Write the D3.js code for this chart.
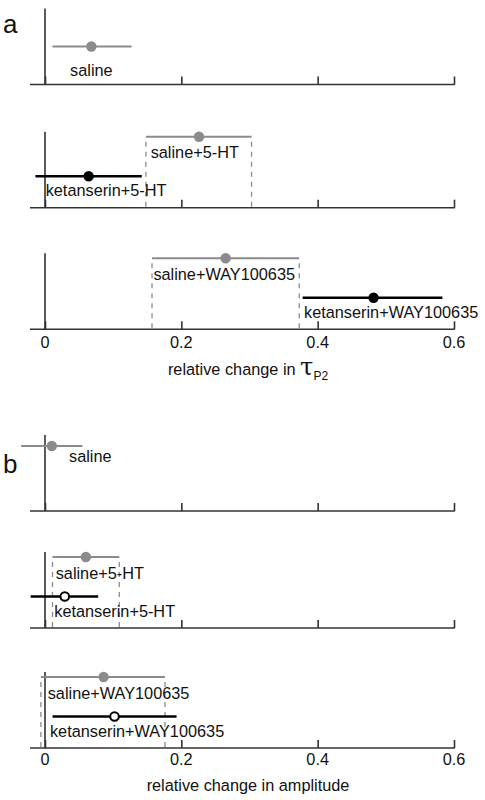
<!DOCTYPE html>
<html>
<head>
<meta charset="utf-8">
<script src="https://cdn.jsdelivr.net/npm/d3@7"></script>
<style>
  html, body { margin: 0; padding: 0; background: #fff; }
  svg { display: block; font-family: "Liberation Sans", Arial, Helvetica, sans-serif; }
</style>
</head>
<body>
<svg id="chart" width="485" height="800"></svg>
<script>
// ---------- data ----------
const conditions = ["saline", "saline+5-HT", "ketanserin+5-HT", "saline+WAY100635", "ketanserin+WAY100635"];
const pretreatment = ["saline", "saline", "ketanserin", "saline", "ketanserin"];
const rowIndex = [0, 1, 1, 2, 2];

// panel a: relative change in tau_P2
const tauMean = [0.068, 0.226, 0.064, 0.265, 0.482];
const tauLow  = [0.011, 0.148, -0.014, 0.157, 0.378];
const tauHigh = [0.127, 0.303, 0.142, 0.373, 0.583];
const tauSignificant = [true, true, true, true, true];

// panel b: relative change in amplitude
const ampMean = [0.010, 0.060, 0.029, 0.086, 0.102];
const ampLow  = [-0.035, 0.011, -0.021, -0.006, 0.011];
const ampHigh = [0.055, 0.109, 0.078, 0.176, 0.193];
const ampSignificant = [true, true, false, true, false];

const xTicks = [0, 0.2, 0.4, 0.6];
const xTickLabels = ["0", "0.2", "0.4", "0.6"];

// ---------- layout ----------
const svg = d3.select("#chart");
const x = d3.scaleLinear().domain([0, 0.6]).range([45, 454]);
const axisLeftEnd = -0.022;
const grayC = "#8b8b8b", axisC = "#333";
const fs = 16.3;

// label starts (data units) for readable placement
const labelStartA = [null, 0.155, 0.001, 0.159, 0.380];
const labelStartB = [null, 0.0157, 0.0136, 0.004, 0.0073];

const panels = [
  { letter: "a", letterY: 33.3, rowsAxisY: [84.5, 207.7, 329.3],
    mean: tauMean, low: tauLow, high: tauHigh, sig: tauSignificant,
    labelStart: labelStartA, salineLower: true, tickLabelY: 348, titleY: 375, title: "tau" },
  { letter: "b", letterY: 472.5, rowsAxisY: [511, 628, 748],
    mean: ampMean, low: ampLow, high: ampHigh, sig: ampSignificant,
    labelStart: labelStartB, salineLower: false, tickLabelY: 765, titleY: 790.5, title: "relative change in amplitude" }
];

panels.forEach(p => {
  const g = svg.append("g");
  g.append("text").attr("x", 3).attr("y", p.letterY)
    .attr("font-size", 26).attr("fill", "#111").text(p.letter);

  // axes per row
  p.rowsAxisY.forEach((ay, ri) => {
    const ag = g.append("g").attr("transform", `translate(0,${ay})`);
    const axis = d3.axisTop(x).tickValues(xTicks).tickSize(8).tickSizeOuter(0)
      .tickFormat((d, i) => "");
    ag.call(axis);
    ag.select(".domain").remove();
    ag.selectAll(".tick line").attr("stroke", axisC).attr("stroke-width", 1.6);
    ag.append("line").attr("x1", x(axisLeftEnd)).attr("x2", x(0.6) + 0.8)
      .attr("y1", 0).attr("y2", 0).attr("stroke", axisC).attr("stroke-width", 1.6);
    ag.append("line").attr("x1", x(0)).attr("x2", x(0))
      .attr("y1", 0).attr("y2", -76).attr("stroke", axisC).attr("stroke-width", 1.6);

    if (ri === 2) {
      ag.selectAll(".tick text").remove();
      xTicks.forEach((t, i) => {
        ag.append("text").attr("x", x(t)).attr("y", p.tickLabelY - ay)
          .attr("text-anchor", "middle").attr("font-size", fs).attr("fill", "#111")
          .text(xTickLabels[i]);
      });
    }
  });

  // dashed guides at gray bar ends
  conditions.forEach((c, i) => {
    if (rowIndex[i] === 0 || pretreatment[i] !== "saline") return;
    const ay = p.rowsAxisY[rowIndex[i]];
    [p.low[i], p.high[i]].forEach(v => {
      g.append("line").attr("x1", x(v)).attr("x2", x(v))
        .attr("y1", ay - 66).attr("y2", ay)
        .attr("stroke", grayC).attr("stroke-width", 1.3)
        .attr("stroke-dasharray", "5,5");
    });
  });

  // error bars + points + labels
  conditions.forEach((c, i) => {
    const ay = p.rowsAxisY[rowIndex[i]];
    const isSaline = pretreatment[i] === "saline";
    let py, ly, lx, anchor = "start";
    if (rowIndex[i] === 0) {
      if (p.salineLower) { py = ay - 38; ly = ay - 8.5; }
      else { py = ay - 65; ly = ay - 49; }
      lx = p.salineLower ? x(p.mean[i]) : x(0.0352);
      anchor = p.salineLower ? "middle" : "start";
    } else {
      py = isSaline ? ay - 71 : ay - 31.5;
      ly = isSaline ? ay - 49.5 : ay - 11.5;
      lx = x(p.labelStart[i]);
    }
    const col = isSaline ? grayC : "#000";
    g.append("line").attr("x1", x(p.low[i])).attr("x2", x(p.high[i]))
      .attr("y1", py).attr("y2", py).attr("stroke", col)
      .attr("stroke-width", isSaline ? 2 : 2.4);
    if (isSaline || p.sig[i]) {
      g.append("circle").attr("cx", x(p.mean[i])).attr("cy", py).attr("r", 5.2)
        .attr("fill", col);
    } else {
      g.append("circle").attr("cx", x(p.mean[i])).attr("cy", py).attr("r", 4.3)
        .attr("fill", "#fff").attr("stroke", "#000").attr("stroke-width", 2);
    }
    g.append("text").attr("x", lx).attr("y", ly).attr("text-anchor", anchor)
      .attr("font-size", fs).attr("fill", "#111").text(c);
  });

  // x-axis title
  if (p.title === "tau") {
    const t = g.append("text").attr("x", 248).attr("y", p.titleY)
      .attr("text-anchor", "middle").attr("font-size", fs).attr("fill", "#111");
    t.append("tspan").text("relative change in ");
    t.append("tspan").attr("font-size", 24).attr("font-family", "'DejaVu Serif', serif").text("τ");
    t.append("tspan").attr("font-size", 12).attr("dy", 5).text("P2");
  } else {
    g.append("text").attr("x", 248).attr("y", p.titleY)
      .attr("text-anchor", "middle").attr("font-size", fs).attr("fill", "#111").text(p.title);
  }
});
</script>
</body>
</html>
